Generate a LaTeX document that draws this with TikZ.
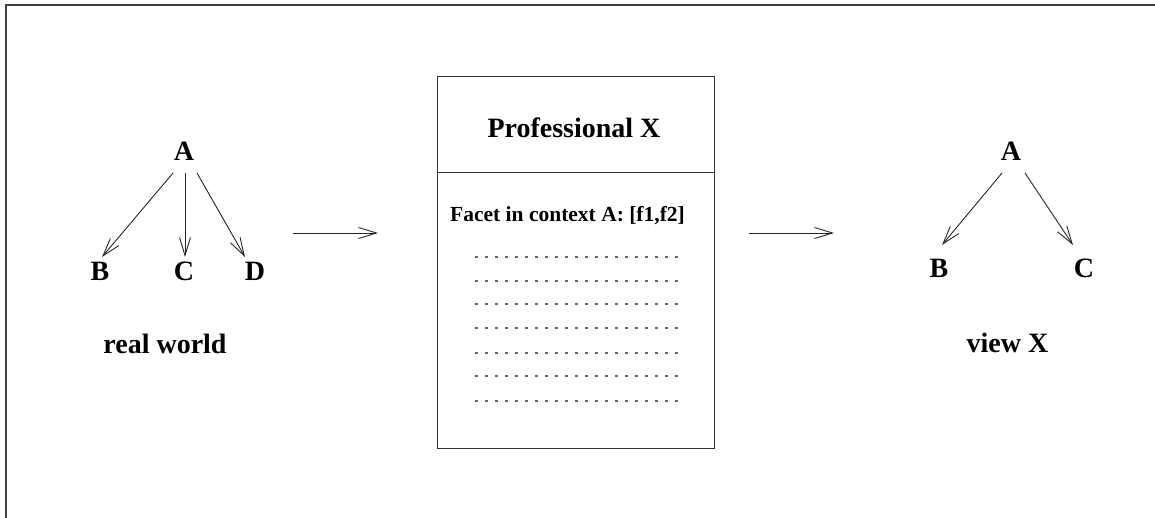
\documentclass[tikz,border=0pt]{standalone}
\usepackage{fontspec}
\setmainfont{Liberation Serif}
\usetikzlibrary{arrows.meta}
\begin{document}
\begin{tikzpicture}[x=1pt,y=-1pt,
  lbl/.style={font=\fontsize{28}{32}\selectfont\bfseries, inner sep=0pt, anchor=base},
  facet/.style={font=\fontsize{21.5}{25}\selectfont\bfseries, inner sep=0pt, anchor=base},
  arr/.style={draw=black!85, line width=0.9pt, -{Straight Barb[length=18pt,width=11pt,line width=0.9pt]}},
  rule/.style={draw=black!80, line width=1pt},
  dots/.style={draw=black!60, line width=1.1pt, dash pattern=on 3.3pt off 6.7pt},
  frameline/.style={draw=black!75, line width=1.3pt}]
\useasboundingbox (0,0) rectangle (1155,518);

% outer frame (top and left edges)
\draw[frameline] (6,518) -- (6,5) -- (1155,5);

% real-world hierarchy
\node[lbl] (lA) at (184,161) {A};
\node[lbl] (lB) at (100,280) {B};
\node[lbl] (lC) at (184,280) {C};
\node[lbl] (lD) at (255,280) {D};
\draw[arr] ([xshift=-11pt,yshift=-12pt]lA.base) -- ([xshift=2pt,yshift=23pt]lB.base);
\draw[arr] ([xshift=1pt,yshift=-12pt]lA.base) -- ([xshift=1pt,yshift=23pt]lC.base);
\draw[arr] ([xshift=13pt,yshift=-12pt]lA.base) -- ([xshift=-10pt,yshift=23pt]lD.base);
\node[lbl] (real) at (165,353) {real world};

% transition arrows
\coordinate (t1s) at (293,233);
\coordinate (t1e) at (378,233);
\coordinate (t2s) at (749,233);
\coordinate (t2e) at (834,233);
\draw[arr] (t1s) -- (t1e);
\draw[arr] (t2s) -- (t2e);

% professional card
\node[rule, draw, minimum width=277pt, minimum height=371pt, inner sep=0pt] (card) at (575.5,262.5) {};
\draw[rule] ([yshift=-96pt]card.north west) -- ([yshift=-96pt]card.north east);
\node[lbl] (prof) at (574,138) {Professional X};
\node[facet] (fac) at (567.5,221.7) {Facet in context A: [f1,f2]};
\foreach \yy in {257,281,304,328,353,376,401}
  \draw[dots] (475,\yy) -- (678,\yy);

% view hierarchy
\node[lbl] (rA) at (1011,161) {A};
\node[lbl] (rB) at (939,278) {B};
\node[lbl] (rC) at (1084,278) {C};
\draw[arr] ([xshift=-9pt,yshift=-12pt]rA.base) -- ([xshift=3pt,yshift=33pt]rB.base);
\draw[arr] ([xshift=14pt,yshift=-12pt]rA.base) -- ([xshift=-11pt,yshift=33pt]rC.base);
\node[lbl] (view) at (1007.5,352) {view X};
\end{tikzpicture}
\end{document}
